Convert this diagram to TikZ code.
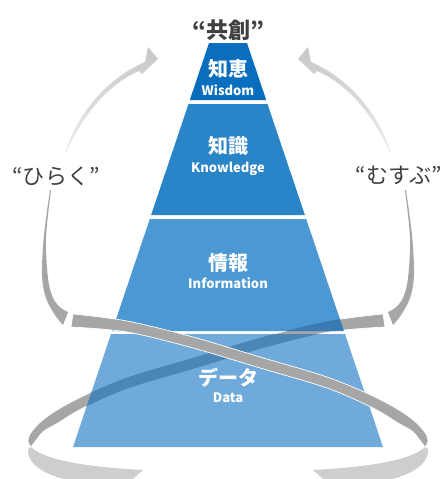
\documentclass[tikz,border=0pt]{standalone}
\usepackage{fontspec}
\setmainfont{Noto Sans CJK JP}
\definecolor{wis}{RGB}{10,110,190}
\definecolor{kno}{RGB}{42,132,200}
\definecolor{inf}{RGB}{76,152,210}
\definecolor{dat}{RGB}{111,170,218}
\definecolor{shadowblue}{RGB}{25,80,130}
\definecolor{ribgrey}{RGB}{166,166,166}
\definecolor{riblight}{RGB}{206,206,206}
\definecolor{arrowdark}{RGB}{198,198,198}
\definecolor{arrowlight}{RGB}{238,238,238}
\definecolor{quotegrey}{RGB}{64,64,64}
\tikzset{
  ribbonS/.style={insert path={
    plot[smooth,tension=0.55] coordinates {(73,314) (127,321) (193,337) (260,357) (327,377) (377,398) (408,416) (424,431) (428,441) (425,447)}
    -- plot[smooth,tension=0.55] coordinates {(425,447) (419,439) (412,431) (398,423) (373,408) (327,388) (260,368) (193,348) (127,332) (71,327)} -- cycle}},
  undersideS/.style={insert path={
    (425,447) .. controls (412,460) and (370,467) .. (313,470) -- (330,485) -- (380,482)
    .. controls (410,476) and (429,465) .. (428,449) -- cycle}},
  sideV/.style={insert path={
    plot[smooth,tension=0.55] coordinates {(50,190) (44,235) (42,275) (46,298) (55,315) (63,325)}
    -- plot[smooth,tension=0.55] coordinates {(68,312) (61,308) (53,298) (48,278) (46,238) (51,190)} -- cycle}},
  arrowA/.style={insert path={
    (65,153) .. controls (78,112) and (108,78) .. (145,62) -- (148,47) -- (158,59) -- (142,74)
    -- (139,71) .. controls (108,84) and (82,116) .. (66,153) -- cycle}},
  mirror/.style={shift={(456,0)},xscale=-1},
  greyband/.style={fill=ribgrey, draw=white, line width=0.7pt},
  underband/.style={fill=riblight},
  arrowband/.style={top color=arrowdark, bottom color=arrowlight},
  jplabel/.style={text=white, font=\fontsize{20}{24}\selectfont\bfseries, inner sep=0pt, anchor=center},
  enlabel/.style={text=white, font=\fontsize{13}{15}\selectfont\bfseries, inner sep=0pt, anchor=base},
  quotetext/.style={text=quotegrey, font=\fontsize{22}{26}\selectfont, inner sep=0pt, anchor=center}
}
\begin{document}
\begin{tikzpicture}[x=1pt,y=-1pt]
\clip (0,0) rectangle (443,479);
\fill[white] (0,0) rectangle (443,479);
% undersides (behind)
\fill[underband, undersideS];
\fill[underband, mirror, undersideS];
% back band
\path[greyband, mirror, ribbonS];
% pyramid
\fill[wis] (209,43) -- (247,43) -- (266.2,100) -- (189.8,100) -- cycle;
\fill[kno] (188.5,104) -- (267.5,104) -- (304.9,215) -- (151.1,215) -- cycle;
\fill[inf] (149.8,219) -- (306.2,219) -- (343.9,331) -- (112.1,331) -- cycle;
\fill[dat] (111.0,334) -- (345.0,334) -- (383.0,447) -- (73.0,447) -- cycle;
% back band seen through pyramid
\begin{scope}
\clip (149.8,219) -- (306.2,219) -- (343.9,331) -- (112.1,331) -- cycle
      (111.0,334) -- (345.0,334) -- (383.0,447) -- (73.0,447) -- cycle;
\fill[shadowblue, opacity=0.4, mirror, ribbonS];
\end{scope}
% front band
\path[greyband, ribbonS];
% side ribbons
\fill[ribgrey, sideV];
\fill[ribgrey, mirror, sideV];
% arrows
\shade[arrowband, arrowA];
\shade[arrowband, mirror, arrowA];
% texts
\node[quotetext, font=\fontsize{22}{26}\selectfont\bfseries] (kyoso) at (228,30) {“共創”};
\node[quotetext] (hiraku) at (56,176) {“ひらく”};
\node[quotetext] (musubu) at (399,175) {“むすぶ”};
\node[jplabel] (chie) at (228,69) {知恵};
\node[enlabel] (wisdom) at (228,95) {Wisdom};
\node[jplabel] (chishiki) at (228,146) {知識};
\node[enlabel] (knowledge) at (228,172) {Knowledge};
\node[jplabel] (joho) at (228,263) {情報};
\node[enlabel] (information) at (228,288) {Information};
\node[jplabel] (data) at (228,378) {データ};
\node[enlabel] (dataen) at (228,402) {Data};
\end{tikzpicture}
\end{document}
